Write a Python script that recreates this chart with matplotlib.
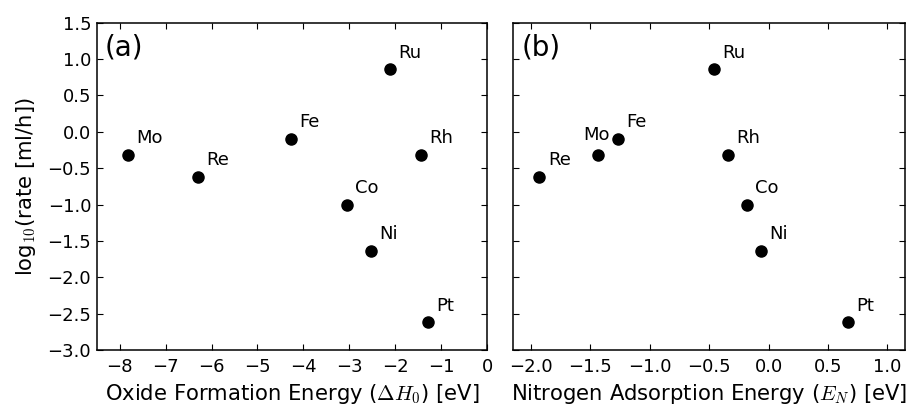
import matplotlib
matplotlib.use("Agg")
import matplotlib.pyplot as plt

plt.rcParams.update({
    "font.family": "DejaVu Sans",
    "font.size": 13,
    "mathtext.fontset": "cm",
    "xtick.direction": "in",
    "ytick.direction": "in",
    "xtick.top": True,
    "ytick.right": True,
    "xtick.major.size": 4.5,
    "ytick.major.size": 4.5,
    "xtick.major.width": 0.8,
    "ytick.major.width": 0.8,
    "xtick.major.pad": 6,
    "ytick.major.pad": 4,
    "axes.linewidth": 1.1,
})

metals = ["Mo", "Re", "Fe", "Ru", "Rh", "Co", "Ni", "Pt"]
log_rate = [-0.32, -0.62, -0.10, 0.86, -0.32, -1.00, -1.64, -2.62]
oxide_energy = [-7.81, -6.29, -4.27, -2.12, -1.43, -3.05, -2.53, -1.29]
n_ads_energy = [-1.44, -1.93, -1.27, -0.46, -0.34, -0.18, -0.06, 0.67]

y_ticks = [-3.0, -2.5, -2.0, -1.5, -1.0, -0.5, 0.0, 0.5, 1.0, 1.5]
a_ticks = list(range(-8, 1))
b_ticks = [-2.0, -1.5, -1.0, -0.5, 0.0, 0.5, 1.0]


def signed(v, fmt):
    return ("\u2212" if v < 0 else "") + format(abs(v), fmt)


fig = plt.figure(figsize=(9.09, 4.08), dpi=100)
ax_a = fig.add_axes([0.1064, 0.1422, 0.4294, 0.8022])
ax_b = fig.add_axes([0.5647, 0.1422, 0.4309, 0.8022])

for ax, xs in ((ax_a, oxide_energy), (ax_b, n_ads_energy)):
    ax.scatter(xs, log_rate, s=64, color="black", zorder=3)
    for name, x, y in zip(metals, xs, log_rate):
        if ax is ax_b and name == "Mo":
            ax.annotate(name, (x, y), xytext=(9, 8), textcoords="offset points",
                        ha="right", va="bottom", fontsize=13)
        else:
            ax.annotate(name, (x, y), xytext=(6, 5.5), textcoords="offset points",
                        ha="left", va="bottom", fontsize=13)
    ax.set_ylim(-3.0, 1.5)
    ax.set_yticks(y_ticks)

ax_a.set_xlim(-8.5, 0)
ax_a.set_xticks(a_ticks)
ax_a.set_xticklabels([signed(v, "d") for v in a_ticks])
ax_a.set_yticklabels([signed(v, ".1f") for v in y_ticks])
ax_a.set_ylabel("log$_{10}$(rate [ml/h])", fontsize=15.2, labelpad=7)
ax_a.set_xlabel(r"Oxide Formation Energy ($\Delta H_0$) [eV]", fontsize=15.2, labelpad=4)
ax_a.text(0.02, 0.968, "(a)", transform=ax_a.transAxes, ha="left", va="top", fontsize=20)

ax_b.set_xlim(-2.15, 1.15)
ax_b.set_xticks(b_ticks)
ax_b.set_xticklabels([signed(v, ".1f") for v in b_ticks])
ax_b.tick_params(axis="y", labelleft=False)
ax_b.set_xlabel(r"Nitrogen Adsorption Energy ($E_N$) [eV]", fontsize=15.2, labelpad=4)
ax_b.text(0.02, 0.968, "(b)", transform=ax_b.transAxes, ha="left", va="top", fontsize=20)

fig.savefig("out.png", dpi=100, facecolor="white")
